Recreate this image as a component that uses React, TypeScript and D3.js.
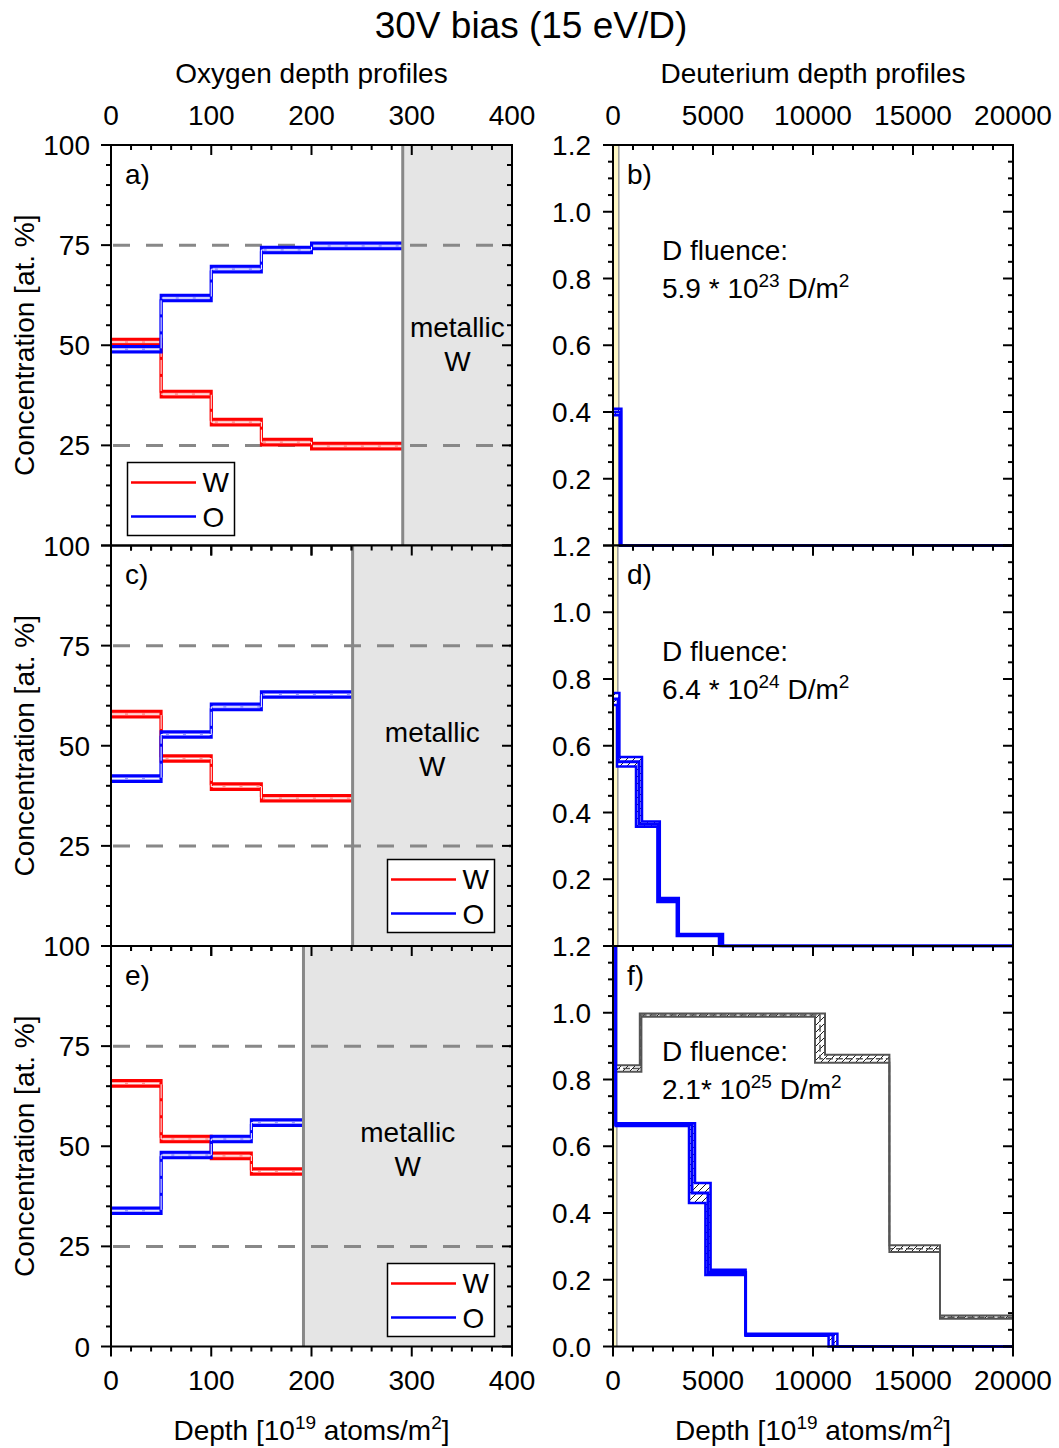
import React from 'react';
import * as d3 from 'd3';

const FONT = "'Liberation Sans', Arial, Helvetica, sans-serif";

// ---------- Oxygen depth profiles (left column) ----------
const oxEdgesA = [0, 50, 100, 150, 200, 291];
const wA = [50.8, 37.8, 30.8, 25.8, 24.8];
const oA = [49.0, 61.8, 69.0, 73.8, 74.8];
const oxErrA = [0.7, 0.7, 0.7, 0.7, 0.7];

const oxEdgesC = [0, 50, 100, 150, 241];
const wC = [57.9, 46.8, 39.8, 36.9];
const oC = [41.8, 52.8, 59.7, 62.8];
const oxErrC = [0.7, 0.7, 0.7, 0.7];

const oxEdgesE = [0, 50, 100, 140, 192];
const wE = [65.7, 51.8, 47.6, 43.7];
const oE = [33.9, 47.8, 51.8, 55.9];
const oxErrE = [0.7, 0.7, 0.7, 0.7];

const oxideThickness = [291, 241, 192];
const refLines = [25, 75];

// ---------- Deuterium depth profiles (right column) ----------
const dEdgesB = [0, 380, 20000];
const dValsB = [0.4, 0];
const dErrB = [0.01, 0];
const dEdgeErrB = [0, 40, 0];

const dEdgesD = [0, 260, 1300, 2280, 3240, 5400, 20000];
const dValsD = [0.74, 0.552, 0.365, 0.138, 0.033, 0];
const dErrD = [0.018, 0.014, 0.008, 0.006, 0.003, 0];
const dEdgeErrD = [0, 60, 150, 60, 50, 100, 0];

const dEdgesF = [0, 135, 3950, 4750, 6630, 11000, 20000];
const dValsF = [1.5, 0.665, 0.46, 0.222, 0.035, 0];
const dErrF = [0, 0.004, 0.03, 0.008, 0.003, 0];
const dEdgeErrF = [0, 0, 150, 130, 0, 220, 0];

const gEdgesF = [0, 1380, 10350, 13820, 16350, 20000];
const gValsF = [0.833, 0.993, 0.862, 0.293, 0.088];
const gErrF = [0.01, 0.005, 0.012, 0.01, 0.005];
const gEdgeErrF = [0, 40, 250, 0, 0, 0];

const fluenceMant = ['5.9 * 10', '6.4 * 10', '2.1* 10'];
const fluenceExp = ['23', '24', '25'];
const panelLettersL = ['a)', 'c)', 'e)'];
const panelLettersR = ['b)', 'd)', 'f)'];

const leftTicks = [0, 100, 200, 300, 400];
const rightTicks = [0, 5000, 10000, 15000, 20000];
const leftYTicks = [0, 25, 50, 75, 100];
const rightYTicks = [0, 0.2, 0.4, 0.6, 0.8, 1.0, 1.2];

// ---------- geometry ----------
const LX0 = 111, LX1 = 512, RX0 = 613, RX1 = 1013;
const TOP = 145, PH = 400.5;
const FS = 28;

type Series = { edges: number[]; vals: number[]; errs: number[]; edgeErrs: number[] };

function bandPoints(s: Series, which: 'hi' | 'lo' | 'mid'): [number, number][] {
  const n = s.vals.length;
  const v = (i: number) => (which === 'hi' ? s.vals[i] + s.errs[i] : which === 'lo' ? s.vals[i] - s.errs[i] : s.vals[i]);
  const pts: [number, number][] = [[s.edges[0], v(0)]];
  for (let i = 1; i < n; i++) {
    const e = s.edges[i];
    const dx = which === 'mid' ? 0 : s.edgeErrs[i];
    const desc = s.vals[i - 1] >= s.vals[i];
    let xs = e;
    if (which === 'hi') xs = desc ? e + dx : e - dx;
    else if (which === 'lo') xs = desc ? e - dx : e + dx;
    pts.push([xs, v(i - 1)]);
    pts.push([xs, v(i)]);
  }
  pts.push([s.edges[n], v(n - 1)]);
  return pts;
}

type BandStyle = { stroke: string; sw: number; fill: string; mid: string; midW: number; midDash?: string };

function StepBand({ s, x, y, st }: { s: Series; x: any; y: any; st: BandStyle }) {
  const line = d3.line<[number, number]>().x(d => x(d[0])).y(d => y(d[1]));
  const hi = bandPoints(s, 'hi');
  const lo = bandPoints(s, 'lo');
  const mid = bandPoints(s, 'mid');
  const poly = hi.concat(lo.slice().reverse());
  return (
    <g>
      <path d={line(poly)! + 'Z'} fill={st.fill} stroke="none" />
      <path d={line(hi)!} fill="none" stroke={st.stroke} strokeWidth={st.sw} />
      <path d={line(lo)!} fill="none" stroke={st.stroke} strokeWidth={st.sw} />
      <path d={line(mid)!} fill="none" stroke={st.mid} strokeWidth={st.midW} strokeDasharray={st.midDash} />
    </g>
  );
}

function Frame({ x, y, top, bottom, xMinorStep, yMinorStep, xTicks, yTicks }: any) {
  const [x0, x1] = x.range();
  const xd = x.domain();
  const yd = y.domain();
  const xMinor = d3.range(xd[0], xd[1] + 1e-9, xMinorStep);
  const yMinor = d3.range(yd[0], yd[1] + 1e-9, yMinorStep);
  const isMajX = (v: number) => xTicks.some((t: number) => Math.abs(t - v) < 1e-6);
  const isMajY = (v: number) => yTicks.some((t: number) => Math.abs(t - v) < 1e-6);
  const els: any[] = [];
  xMinor.forEach((v: number, i: number) => {
    const L = isMajX(v) ? 10 : 5;
    const px = x(v);
    els.push(<line key={'xt' + i} x1={px} x2={px} y1={top} y2={top + L} stroke="#000" strokeWidth={2} />);
    els.push(<line key={'xb' + i} x1={px} x2={px} y1={bottom} y2={bottom + L} stroke="#000" strokeWidth={2} />);
  });
  yMinor.forEach((v: number, i: number) => {
    const L = isMajY(v) ? 10 : 5;
    const py = y(v);
    els.push(<line key={'yl' + i} x1={x0 - L} x2={x0} y1={py} y2={py} stroke="#000" strokeWidth={2} />);
    els.push(<line key={'yr' + i} x1={x1 - L} x2={x1} y1={py} y2={py} stroke="#000" strokeWidth={2} />);
  });
  return (
    <g>
      {els}
      <rect x={x0} y={top} width={x1 - x0} height={bottom - top} fill="none" stroke="#000" strokeWidth={2} />
    </g>
  );
}

export default function App() {
  const xL = d3.scaleLinear().domain([0, 400]).range([LX0, LX1]);
  const xR = d3.scaleLinear().domain([0, 20000]).range([RX0, RX1]);
  const rows = [0, 1, 2].map(i => TOP + i * PH);

  const leftData = [
    { edges: oxEdgesA, w: wA, o: oA, err: oxErrA, legend: [127.5, 462.5], metY: 337 },
    { edges: oxEdgesC, w: wC, o: oC, err: oxErrC, legend: [387.5, 859.5], metY: 742 },
    { edges: oxEdgesE, w: wE, o: oE, err: oxErrE, legend: [387.5, 1263.5], metY: 1142 },
  ];
  const zeros = (n: number) => new Array(n).fill(0);

  const rightBlue: Series[] = [
    { edges: dEdgesB, vals: dValsB, errs: dErrB, edgeErrs: dEdgeErrB },
    { edges: dEdgesD, vals: dValsD, errs: dErrD, edgeErrs: dEdgeErrD },
    { edges: dEdgesF, vals: dValsF, errs: dErrF, edgeErrs: dEdgeErrF },
  ];
  const grayF: Series = { edges: gEdgesF, vals: gValsF, errs: gErrF, edgeErrs: gEdgeErrF };

  const redSt: BandStyle = { stroke: '#ff0000', sw: 3, fill: '#ff9a9a', mid: '#fff', midW: 1, midDash: '14,3' };
  const blueSt: BandStyle = { stroke: '#0000ff', sw: 3, fill: '#9a9aff', mid: '#fff', midW: 1, midDash: '14,3' };
  const dBlueSt: BandStyle = { stroke: '#0000ff', sw: 2.5, fill: 'url(#hatch)', mid: '#0000ff', midW: 3 };
  const grayStBand: BandStyle = { stroke: '#555', sw: 2, fill: 'url(#hatch)', mid: '#555', midW: 1.5, midDash: '7,3' };

  const fmtR = d3.format('.1f');

  return (
    <div style={{ position: 'absolute', left: 0, top: 0 }}>
      <svg width={1059} height={1448} style={{ display: 'block', background: '#fff' }} fontFamily={FONT}>
        <defs>
          <pattern id="hatch" patternUnits="userSpaceOnUse" width={7} height={7}>
            <rect width={7} height={7} fill="#fff" />
            <path d="M0,7 L7,0" stroke="#000" strokeWidth={0.9} />
          </pattern>
          {rows.map((t, i) => (
            <clipPath id={'clipL' + i} key={'cl' + i}>
              <rect x={LX0} y={t} width={LX1 - LX0} height={PH} />
            </clipPath>
          ))}
          {rows.map((t, i) => (
            <clipPath id={'clipR' + i} key={'cr' + i}>
              <rect x={RX0 - 2} y={t} width={RX1 - RX0 + 2} height={PH + 1.5} />
            </clipPath>
          ))}
        </defs>

        {/* Title */}
        <text x={531} y={38} fontSize={37} textAnchor="middle">30V bias (15 eV/D)</text>
        <text x={(LX0 + LX1) / 2} y={83} fontSize={FS} textAnchor="middle">Oxygen depth profiles</text>
        <text x={(RX0 + RX1) / 2} y={83} fontSize={FS} textAnchor="middle">Deuterium depth profiles</text>

        {/* LEFT PANELS */}
        {leftData.map((p, i) => {
          const top = rows[i], bottom = top + PH;
          const y = d3.scaleLinear().domain([0, 100]).range([bottom, top]);
          const th = oxideThickness[i];
          const sW: Series = { edges: p.edges, vals: p.w, errs: p.err, edgeErrs: zeros(p.edges.length) };
          const sO: Series = { edges: p.edges, vals: p.o, errs: p.err, edgeErrs: zeros(p.edges.length) };
          const [lx, ly] = p.legend;
          const labelTicks = i === 2 ? leftYTicks : leftYTicks.filter(v => v > 0);
          return (
            <g key={'L' + i}>
              <rect x={xL(th)} y={top} width={LX1 - xL(th)} height={PH} fill="#e5e5e5" />
              {refLines.map(r => (
                <line key={r} x1={LX0} x2={LX1} y1={y(r)} y2={y(r)} stroke="#888" strokeWidth={3} strokeDasharray="17,16" strokeDashoffset={-2} />
              ))}
              <g clipPath={`url(#clipL${i})`}>
                <StepBand s={sW} x={xL} y={y} st={redSt} />
                <StepBand s={sO} x={xL} y={y} st={blueSt} />
              </g>
              <line x1={xL(th)} x2={xL(th)} y1={top} y2={bottom} stroke="#888" strokeWidth={3} />
              <Frame x={xL} y={y} top={top} bottom={bottom} xMinorStep={20} yMinorStep={5} xTicks={leftTicks} yTicks={leftYTicks} />
              <text x={xL(th) + (LX1 - xL(th)) / 2} y={p.metY} fontSize={FS} textAnchor="middle">metallic</text>
              <text x={xL(th) + (LX1 - xL(th)) / 2} y={p.metY + 34} fontSize={FS} textAnchor="middle">W</text>
              <text x={125} y={top + 38.5} fontSize={FS}>{panelLettersL[i]}</text>
              {labelTicks.map(v => (
                <text key={v} x={LX0 - 21} y={y(v) + 10} fontSize={FS} textAnchor="end">{v}</text>
              ))}
              <text transform={`translate(34,${(top + bottom) / 2}) rotate(-90)`} fontSize={FS} textAnchor="middle">Concentration [at. %]</text>
              {/* legend */}
              <rect x={lx} y={ly} width={107} height={73} fill="#fff" stroke="#000" strokeWidth={1.5} />
              <line x1={lx + 3.5} x2={lx + 68.5} y1={ly + 20} y2={ly + 20} stroke="#ff0000" strokeWidth={2.5} />
              <text x={lx + 75} y={ly + 29.5} fontSize={FS}>W</text>
              <line x1={lx + 3.5} x2={lx + 68.5} y1={ly + 54} y2={ly + 54} stroke="#0000ff" strokeWidth={2.5} />
              <text x={lx + 75} y={ly + 64} fontSize={FS}>O</text>
            </g>
          );
        })}

        {/* RIGHT PANELS */}
        {rightBlue.map((s, i) => {
          const top = rows[i], bottom = top + PH;
          const y = d3.scaleLinear().domain([0, 1.2]).range([bottom, top]);
          const th = oxideThickness[i];
          const labelTicks = i === 2 ? rightYTicks : rightYTicks.filter(v => v > 0);
          return (
            <g key={'R' + i}>
              <rect x={RX0} y={top} width={xR(th) - RX0} height={PH} fill="#fff8c4" />
              <line x1={xR(th)} x2={xR(th)} y1={top} y2={bottom} stroke="#999" strokeWidth={1.5} />
              <g clipPath={`url(#clipR${i})`}>
                {i === 2 && <StepBand s={grayF} x={xR} y={y} st={grayStBand} />}
                <StepBand s={s} x={xR} y={y} st={dBlueSt} />
              </g>
              <Frame x={xR} y={y} top={top} bottom={bottom} xMinorStep={1000} yMinorStep={0.05} xTicks={rightTicks} yTicks={rightYTicks} />
              <text x={627} y={top + 38.5} fontSize={FS}>{panelLettersR[i]}</text>
              {labelTicks.map(v => (
                <text key={v} x={RX0 - 22} y={y(v) + 10} fontSize={FS} textAnchor="end">{fmtR(v)}</text>
              ))}
              <text x={662} y={top + 115} fontSize={FS}>D fluence:</text>
              <text x={662} y={top + 153} fontSize={FS}>
                {fluenceMant[i]}
                <tspan dy={-11} fontSize={19}>{fluenceExp[i]}</tspan>
                <tspan dy={11}> D/m</tspan>
                <tspan dy={-11} fontSize={19}>2</tspan>
              </text>
            </g>
          );
        })}

        {/* Top tick labels */}
        {leftTicks.map(v => (
          <text key={'tl' + v} x={xL(v)} y={125} fontSize={FS} textAnchor="middle">{v}</text>
        ))}
        {rightTicks.map(v => (
          <text key={'tr' + v} x={xR(v)} y={125} fontSize={FS} textAnchor="middle">{v}</text>
        ))}
        {/* Bottom tick labels */}
        {leftTicks.map(v => (
          <text key={'bl' + v} x={xL(v)} y={1390} fontSize={FS} textAnchor="middle">{v}</text>
        ))}
        {rightTicks.map(v => (
          <text key={'br' + v} x={xR(v)} y={1390} fontSize={FS} textAnchor="middle">{v}</text>
        ))}
        {[(LX0 + LX1) / 2, (RX0 + RX1) / 2].map((cx, k) => (
          <text key={'xl' + k} x={cx} y={1440} fontSize={FS} textAnchor="middle">
            Depth [10<tspan dy={-11} fontSize={19}>19</tspan>
            <tspan dy={11}> atoms/m</tspan>
            <tspan dy={-11} fontSize={19}>2</tspan>
            <tspan dy={11}>]</tspan>
          </text>
        ))}
      </svg>
    </div>
  );
}
